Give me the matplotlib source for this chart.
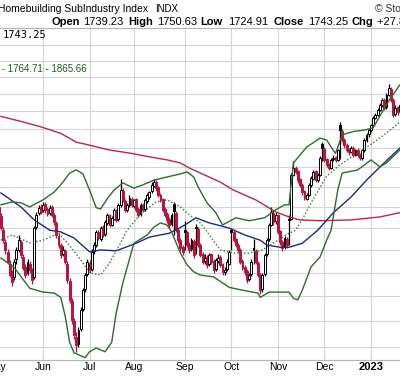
import numpy as np
import pandas as pd
import matplotlib
matplotlib.use("Agg")
import matplotlib.pyplot as plt
import matplotlib.transforms as mtransforms

# ---------------- datos ----------------
feriados = ["2022-05-30", "2022-06-20", "2022-07-04", "2022-09-05",
            "2022-11-24", "2022-12-26", "2023-01-02", "2023-01-16"]
fechas = pd.bdate_range("2022-05-02", "2023-01-23", freq="C", holidays=feriados)

apertura = [1420, 1400, 1378, 1345, 1318, 1296, 1270, 1250, 1240, 1280, 1300, 1318, 1285, 1262, 1250, 1270,
            1255, 1240, 1352, 1385, 1400, 1392, 1408, 1395, 1386, 1400, 1380, 1362, 1332, 1310, 1292, 1298,
            1270, 1232, 1190, 1150, 1120, 1106, 1135, 1175, 1215, 1248, 1272, 1258, 1298, 1310, 1340, 1325,
            1352, 1336, 1362, 1380, 1358, 1372, 1392, 1370, 1405, 1440, 1415, 1392, 1404, 1420, 1403, 1418,
            1395, 1383, 1405, 1395, 1415, 1425, 1438, 1452, 1462, 1448, 1430, 1418, 1395, 1383, 1370, 1360,
            1408, 1385, 1345, 1322, 1306, 1345, 1340, 1312, 1302, 1320, 1352, 1348, 1312, 1290, 1276, 1284,
            1268, 1290, 1276, 1258, 1276, 1284, 1268, 1252, 1258, 1270, 1345, 1340, 1324, 1312, 1300, 1276,
            1262, 1253, 1236, 1248, 1305, 1298, 1272, 1246, 1215, 1248, 1290, 1324, 1358, 1386, 1366, 1380,
            1342, 1318, 1306, 1325, 1372, 1372, 1480, 1496, 1488, 1468, 1455, 1438, 1420, 1430, 1455, 1470,
            1488, 1466, 1480, 1560, 1548, 1520, 1506, 1497, 1520, 1525, 1518, 1612, 1596, 1572, 1558, 1545,
            1540, 1550, 1532, 1545, 1532, 1522, 1545, 1572, 1586, 1598, 1612, 1632, 1640, 1654, 1668, 1684,
            1662, 1698, 1716, 1684, 1642, 1662, 1650]
maximo = [1428, 1408, 1385, 1352, 1325, 1302, 1278, 1256, 1280, 1306, 1335, 1322, 1290, 1268, 1280, 1276,
          1260, 1355, 1388, 1405, 1408, 1412, 1412, 1400, 1404, 1404, 1386, 1366, 1338, 1315, 1308, 1303,
          1275, 1238, 1196, 1156, 1128, 1138, 1178, 1218, 1250, 1280, 1278, 1302, 1318, 1346, 1345, 1355,
          1356, 1368, 1386, 1384, 1378, 1398, 1396, 1410, 1468, 1446, 1420, 1410, 1428, 1425, 1420, 1422,
          1400, 1410, 1410, 1422, 1434, 1440, 1462, 1468, 1466, 1452, 1434, 1422, 1400, 1388, 1375, 1386,
          1412, 1390, 1350, 1328, 1312, 1366, 1344, 1318, 1328, 1325, 1360, 1352, 1316, 1295, 1290, 1288,
          1294, 1294, 1280, 1282, 1290, 1288, 1272, 1262, 1280, 1300, 1350, 1345, 1328, 1316, 1304, 1280,
          1266, 1258, 1250, 1280, 1325, 1302, 1276, 1250, 1250, 1294, 1326, 1362, 1400, 1392, 1388, 1384,
          1346, 1322, 1332, 1330, 1380, 1485, 1515, 1502, 1492, 1472, 1460, 1442, 1434, 1458, 1476, 1492,
          1492, 1484, 1528, 1565, 1552, 1524, 1510, 1522, 1530, 1528, 1548, 1620, 1600, 1576, 1562, 1550,
          1555, 1554, 1548, 1550, 1536, 1548, 1575, 1590, 1602, 1616, 1636, 1646, 1660, 1675, 1690, 1688,
          1702, 1730, 1720, 1688, 1668, 1666, 1675]
minimo = [1398, 1375, 1345, 1315, 1292, 1268, 1240, 1222, 1235, 1270, 1295, 1282, 1255, 1238, 1245, 1250,
          1225, 1236, 1348, 1380, 1382, 1388, 1386, 1378, 1380, 1375, 1358, 1328, 1305, 1282, 1286, 1268,
          1228, 1186, 1145, 1116, 1090, 1100, 1130, 1170, 1210, 1242, 1250, 1254, 1292, 1306, 1322, 1320,
          1330, 1332, 1358, 1352, 1354, 1368, 1364, 1366, 1400, 1412, 1388, 1388, 1400, 1400, 1398, 1388,
          1376, 1378, 1388, 1390, 1410, 1420, 1434, 1448, 1440, 1424, 1412, 1388, 1376, 1362, 1350, 1355,
          1335, 1340, 1316, 1298, 1288, 1300, 1306, 1294, 1298, 1282, 1290, 1306, 1284, 1268, 1270, 1260,
          1264, 1268, 1250, 1254, 1272, 1262, 1246, 1245, 1254, 1266, 1300, 1318, 1306, 1295, 1268, 1255,
          1246, 1228, 1232, 1244, 1270, 1268, 1240, 1205, 1210, 1244, 1286, 1320, 1354, 1358, 1360, 1336,
          1312, 1298, 1302, 1305, 1310, 1368, 1476, 1482, 1460, 1448, 1430, 1416, 1416, 1426, 1450, 1466,
          1462, 1462, 1476, 1515, 1512, 1500, 1492, 1494, 1515, 1512, 1514, 1520, 1565, 1550, 1538, 1532,
          1535, 1526, 1528, 1526, 1518, 1518, 1540, 1566, 1580, 1592, 1608, 1628, 1636, 1650, 1664, 1655,
          1658, 1694, 1678, 1634, 1638, 1640, 1646]
cierre = [1405, 1381, 1350, 1322, 1300, 1274, 1245, 1230, 1274, 1300, 1322, 1289, 1261, 1245, 1274, 1256,
          1234, 1350, 1381, 1398, 1388, 1405, 1393, 1384, 1398, 1381, 1364, 1334, 1311, 1289, 1300, 1274,
          1234, 1193, 1152, 1123, 1104, 1133, 1172, 1213, 1245, 1274, 1256, 1296, 1311, 1341, 1327, 1350,
          1334, 1364, 1381, 1357, 1374, 1393, 1369, 1405, 1441, 1417, 1393, 1405, 1422, 1405, 1417, 1393,
          1381, 1405, 1393, 1417, 1429, 1436, 1454, 1461, 1446, 1429, 1417, 1393, 1381, 1369, 1357, 1381,
          1390, 1345, 1322, 1304, 1296, 1341, 1311, 1300, 1322, 1289, 1350, 1311, 1289, 1274, 1282, 1267,
          1289, 1274, 1256, 1278, 1282, 1267, 1252, 1256, 1274, 1296, 1341, 1322, 1311, 1300, 1274, 1261,
          1252, 1234, 1245, 1274, 1300, 1274, 1245, 1213, 1245, 1289, 1322, 1357, 1388, 1364, 1381, 1341,
          1318, 1304, 1327, 1311, 1369, 1479, 1497, 1487, 1466, 1454, 1436, 1422, 1429, 1454, 1471, 1487,
          1466, 1479, 1523, 1549, 1518, 1505, 1497, 1518, 1523, 1518, 1544, 1598, 1571, 1557, 1544, 1539,
          1549, 1531, 1544, 1531, 1523, 1544, 1571, 1585, 1598, 1612, 1632, 1640, 1654, 1668, 1683, 1660,
          1697, 1718, 1683, 1640, 1660, 1648, 1668]

bb_sup_dias = [2, 7, 11, 15, 21, 26, 30, 33, 36, 39, 42, 45, 47, 50, 53, 57, 62, 66, 71, 77, 83, 86, 89,
               91, 95, 99, 102, 108, 114, 121, 126, 130, 132, 134, 137, 140, 146, 149, 151, 153, 156,
               161, 166, 170, 173, 177, 182]
bb_sup = [1405, 1412, 1410, 1400, 1417, 1436, 1461, 1484, 1492, 1482, 1441, 1398, 1395, 1420, 1441, 1459,
          1446, 1454, 1466, 1474, 1482, 1487, 1474, 1449, 1410, 1386, 1357, 1374, 1367, 1374, 1393, 1405,
          1405, 1510, 1531, 1552, 1576, 1571, 1552, 1535, 1585, 1594, 1598, 1604, 1637, 1680, 1727]
bb_med_dias = [2, 7, 15, 21, 28, 32, 38, 42, 47, 51, 56, 59, 65, 72, 77, 83, 87, 92, 95, 101, 107, 114,
               120, 127, 131, 135, 138, 143, 149, 155, 163, 170, 176, 182]
bb_med = [1322, 1334, 1316, 1322, 1338, 1316, 1278, 1250, 1245, 1271, 1316, 1345, 1383, 1412, 1417, 1400,
          1381, 1362, 1341, 1300, 1293, 1293, 1300, 1322, 1335, 1345, 1370, 1420, 1476, 1505, 1536, 1563,
          1590, 1620]
bb_inf_dias = [2, 8, 15, 21, 26, 29, 31, 33, 35, 40, 42, 45, 49, 52, 54, 57, 62, 68, 71, 74, 77, 79, 83,
               86, 89, 92, 98, 105, 111, 118, 119, 123, 132, 134, 136, 138, 142, 146, 149, 151, 154,
               156, 163, 169, 173, 176, 182]
bb_inf = [1282, 1261, 1217, 1209, 1207, 1198, 1160, 1109, 1089, 1080, 1091, 1098, 1091, 1109, 1166, 1228,
          1315, 1334, 1352, 1362, 1357, 1341, 1293, 1267, 1252, 1245, 1241, 1219, 1213, 1207, 1198, 1209,
          1209, 1196, 1193, 1213, 1263, 1284, 1322, 1345, 1441, 1484, 1492, 1518, 1500, 1510, 1544]
sma50_dias = [2, 11, 17, 24, 29, 35, 42, 47, 54, 63, 69, 78, 85, 90, 96, 105, 112, 119, 122, 128, 132,
              138, 145, 152, 160, 167, 174, 182]
sma50 = [1434, 1400, 1369, 1345, 1341, 1327, 1296, 1300, 1298, 1315, 1329, 1338, 1357, 1374, 1362, 1350,
         1334, 1322, 1311, 1306, 1306, 1315, 1345, 1386, 1424, 1466, 1505, 1549]
sma200_dias = [2, 11, 20, 29, 36, 42, 51, 60, 69, 77, 83, 87, 92, 101, 107, 117, 126, 132, 137, 146, 160,
               173, 182]
sma200 = [1636, 1622, 1607, 1589, 1565, 1557, 1544, 1536, 1526, 1518, 1510, 1497, 1484, 1461, 1441, 1417,
          1388, 1376, 1369, 1367, 1369, 1376, 1386]

meses = ["May", "Jun", "Jul", "Aug", "Sep", "Oct", "Nov", "Dec", "2023"]

# ---------------- figura ----------------
ROJO = "#bd1240"
VERDE = "#2f6a2f"
GRIS = "#d4d4d4"

fig = plt.figure(figsize=(4.0, 3.76), dpi=100)
fig.patch.set_facecolor("white")
alto = 376.0
ax = fig.add_axes([0, 16 / alto, 1, 332 / alto])

dias = np.arange(len(fechas))
ax.set_yscale("log")
ax.set_ylim(1075.6, 1905)
ax.set_xlim(1.58, 182.1)

# rejilla
for p in range(1100, 1851, 50):
    ax.axhline(p, color=GRIS, lw=0.8, zorder=0)
inicio_mes = [0] + [i for i in range(1, len(fechas)) if fechas[i].month != fechas[i - 1].month]
for i in inicio_mes:
    ax.axvline(i, color=GRIS, lw=0.8, zorder=0)

# velas
prev = None
for i in dias:
    o, h, l, c = apertura[i], maximo[i], minimo[i], cierre[i]
    col = "black" if (prev is None or c >= prev) else ROJO
    ax.vlines(i, l, h, color=col, lw=0.9, zorder=3)
    abajo, arriba = min(o, c), max(o, c)
    hueco = c > o
    ax.bar(i, arriba - abajo if arriba > abajo else 0.5, bottom=abajo, width=0.85,
           facecolor="white" if hueco else col, edgecolor=col, lw=0.7, zorder=4)
    prev = c

# indicadores
ax.plot(sma200_dias, sma200, color="#b8284a", lw=1.0, zorder=5)
ax.plot(sma50_dias, sma50, color="#1f2a7a", lw=1.0, zorder=5)
ax.plot(bb_sup_dias, bb_sup, color=VERDE, lw=1.0, zorder=5)
ax.plot(bb_inf_dias, bb_inf, color=VERDE, lw=1.0, zorder=5)
ax.plot(bb_med_dias, bb_med, color="#3d6f3d", lw=1.0, ls=(0, (1, 1.5)), zorder=5)

for s in ["left", "right"]:
    ax.spines[s].set_visible(False)
for s in ["top", "bottom"]:
    ax.spines[s].set_color("#b4b4b4")
    ax.spines[s].set_linewidth(0.8)
ax.set_xticks([])
ax.set_yticks([])
ax.minorticks_off()
ax.yaxis.set_minor_locator(matplotlib.ticker.NullLocator())

# etiquetas de meses
trans = mtransforms.blended_transform_factory(ax.transData, fig.transFigure)
for i, nombre in zip(inicio_mes, meses):
    ax.text(i, 1 - 367 / alto, nombre, transform=trans, ha="center", va="center",
            fontsize=8 if nombre == "2023" else 7.5, family="Liberation Sans",
            fontweight="bold" if nombre == "2023" else "normal", clip_on=False)

# textos de cabecera
def px(x, y, s, **kw):
    fig.text(x / 400.0, 1 - y / alto, s, va="center", family="Liberation Sans", **kw)

px(-2, 9.5, "Homebuilding SubIndustry Index", fontsize=7.5)
px(155, 9.5, "INDX", fontsize=7)
px(375, 9.5, "\u00a9 StockCharts.com", fontsize=7.5, color="#333333")
fila = [(52, "Open", True), (83, "1739.23", False), (128, "High", True), (157, "1750.63", False),
        (200, "Low", True), (228, "1724.91", False), (273, "Close", True), (308, "1743.25", False),
        (352, "Chg", True), (377, "+27.84 (+1.62%)", False)]
for x, s, negrita in fila:
    px(x, 22, s, fontsize=8, fontweight="bold" if negrita else "normal")
fig.text(3 / 400.0, 1 - 35.5 / alto, "1743.25", va="center", family="DejaVu Sans Mono", fontsize=7.5)
fig.text(87 / 400.0, 1 - 68.5 / alto, "BB(20,2.0) 1663.76 - 1764.71 - 1865.66", va="center", ha="right",
         family="Liberation Sans", fontsize=7, color="#1e5a1e")

fig.savefig("out.png", dpi=100)
